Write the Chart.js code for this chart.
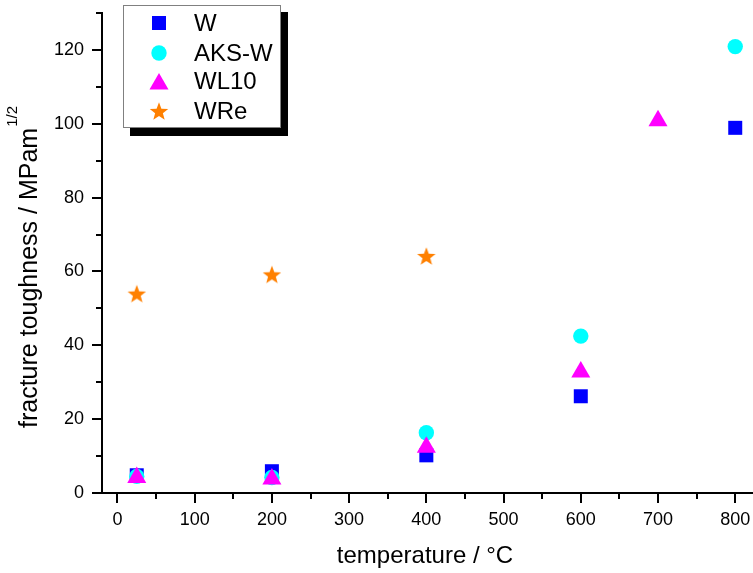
<!DOCTYPE html>
<html>
<head>
<meta charset="utf-8">
<script src="https://cdn.jsdelivr.net/npm/chart.js@4/dist/chart.umd.min.js"></script>
<style>
  body { margin: 0; background: #fff; }
  #wrap { width: 753px; height: 573px; position: relative; }
</style>
</head>
<body>
<div id="wrap"><canvas id="toughChart"></canvas></div>
<script>
// series (temperature in °C, toughness in MPa m^1/2)
const seriesNames = ['W', 'AKS-W', 'WL10', 'WRe'];
const wTemp = [25, 200, 400, 600, 800];
const wTough = [4.8, 5.9, 10.2, 26.2, 98.9];
const aksTemp = [25, 200, 400, 600, 800];
const aksTough = [4.5, 4.2, 16.3, 42.5, 120.9];
const wl10Temp = [25, 200, 400, 600, 700];
const wl10Tough = [4.2, 3.8, 12.4, 32.8, 100.8];
const wreTemp = [25, 200, 400];
const wreTough = [54.0, 59.2, 64.2];

const xMajorTicks = [0, 100, 200, 300, 400, 500, 600, 700, 800];
const xMinorTicks = [50, 150, 250, 350, 450, 550, 650, 750];
const yMajorTicks = [0, 20, 40, 60, 80, 100, 120];
const yMinorTicks = [10, 30, 50, 70, 90, 110, 130];

const FONT = "'Liberation Sans', Arial, sans-serif";

// filled five point star, used as point style
function makeStar(color, R) {
    const c = document.createElement('canvas');
    const s = Math.ceil(R * 2 + 2);
    c.width = s; c.height = s;
    const g = c.getContext('2d');
    const r = R * 0.42;
    g.translate(s / 2, s / 2 + R * 0.1);
    g.beginPath();
    for (let i = 0; i < 10; i++) {
        const a = -Math.PI / 2 + i * Math.PI / 5;
        const rr = i % 2 === 0 ? R : r;
        g.lineTo(Math.cos(a) * rr, Math.sin(a) * rr);
    }
    g.closePath();
    g.fillStyle = color;
    g.fill();
    return c;
}

function toPoints(xs, ys) {
    return xs.map((x, i) => ({ x: x, y: ys[i] }));
}

const styles = [
    { color: '#0000ff', pointStyle: 'rect', radius: 9.9, order: 4 },
    { color: '#00ffff', pointStyle: 'circle', radius: 7.7, order: 3 },
    { color: '#ff00ff', pointStyle: 'triangle', radius: 11, order: 2 },
    { color: '#ff8000', pointStyle: makeStar('#ff8000', 9.7), radius: 10, order: 1 }
];
const allData = [
    toPoints(wTemp, wTough),
    toPoints(aksTemp, aksTough),
    toPoints(wl10Temp, wl10Tough),
    toPoints(wreTemp, wreTough)
];

const datasets = seriesNames.map((name, i) => ({
    label: name,
    data: allData[i],
    pointStyle: styles[i].pointStyle,
    pointRadius: styles[i].radius,
    pointHoverRadius: styles[i].radius,
    pointBackgroundColor: styles[i].color,
    pointBorderColor: styles[i].color,
    pointBorderWidth: 0,
    showLine: false,
    order: styles[i].order,
    clip: false
}));

// minor ticks, axis titles and the shadowed legend box
const extrasPlugin = {
    id: 'extras',
    afterDraw(chart) {
        const ctx = chart.ctx;
        const xs = chart.scales.x, ys = chart.scales.y;
        const area = chart.chartArea;
        ctx.save();
        ctx.strokeStyle = '#000';
        ctx.lineWidth = 2;
        ctx.beginPath();
        xMinorTicks.forEach(v => {
            const px = Math.round(xs.getPixelForValue(v));
            ctx.moveTo(px, area.bottom);
            ctx.lineTo(px, area.bottom + 6);
        });
        yMinorTicks.forEach(v => {
            const py = Math.round(ys.getPixelForValue(v));
            ctx.moveTo(area.left, py);
            ctx.lineTo(area.left - 6, py);
        });
        ctx.stroke();

        // x title
        ctx.fillStyle = '#000';
        ctx.font = '24px ' + FONT;
        ctx.textAlign = 'center';
        ctx.textBaseline = 'alphabetic';
        ctx.fillText('temperature / °C', 425, 563);

        // y title with superscript
        ctx.save();
        ctx.translate(37, 428);
        ctx.rotate(-Math.PI / 2);
        ctx.textAlign = 'left';
        ctx.font = '25px ' + FONT;
        const main = 'fracture toughness / MPam';
        ctx.fillText(main, 0, 0);
        const w = ctx.measureText(main).width;
        ctx.font = '15px ' + FONT;
        ctx.fillText('1/2', w + 1, -20);
        ctx.restore();

        // legend
        ctx.fillStyle = '#000';
        ctx.fillRect(130, 12, 158, 124);
        ctx.fillStyle = '#fff';
        ctx.fillRect(123, 5, 158, 123);
        ctx.strokeStyle = '#808080';
        ctx.lineWidth = 1;
        ctx.strokeRect(123.5, 5.5, 157, 122);
        const rows = [23, 53, 81, 111];
        seriesNames.forEach((name, i) => {
            ctx.fillStyle = styles[i].color;
            ctx.strokeStyle = styles[i].color;
            const dy = styles[i].pointStyle === 'triangle' ? 3 : 0;
            Chart.helpers.drawPoint(ctx, {
                pointStyle: styles[i].pointStyle,
                radius: styles[i].radius,
                rotation: 0,
                borderWidth: 0
            }, 159, rows[i] + dy);
            ctx.fillStyle = '#000';
            ctx.font = '24px ' + FONT;
            ctx.textAlign = 'left';
            ctx.textBaseline = 'middle';
            ctx.fillText(name, 194, rows[i] + 1);
        });
        ctx.restore();
    }
};

Chart.defaults.font.family = FONT;
Chart.defaults.color = '#000';

new Chart(document.getElementById('toughChart'), {
    type: 'scatter',
    data: { datasets: datasets },
    options: {
        responsive: true,
        maintainAspectRatio: false,
        animation: false,
        layout: { autoPadding: false, padding: { top: 13, left: 0, right: 0, bottom: 0 } },
        plugins: {
            legend: { display: false },
            tooltip: { enabled: false }
        },
        scales: {
            x: {
                type: 'linear',
                min: -20,
                max: 823,
                afterFit: s => {
                    s.height = 80;
                    s.paddingLeft = 0;
                    s.paddingRight = 0;
                },
                afterBuildTicks: s => { s.ticks = xMajorTicks.map(v => ({ value: v })); },
                ticks: { font: { size: 18 }, padding: 6, maxRotation: 0, color: '#000' },
                grid: { drawOnChartArea: false, tickLength: 10, color: '#000', lineWidth: 2 },
                border: { display: true, color: '#000', width: 2 }
            },
            y: {
                type: 'linear',
                min: 0,
                max: 130,
                afterFit: s => {
                    s.width = 102;
                    s.paddingTop = 0;
                    s.paddingBottom = 0;
                },
                afterBuildTicks: s => { s.ticks = yMajorTicks.map(v => ({ value: v })); },
                ticks: { font: { size: 18 }, padding: 8, color: '#000' },
                grid: { drawOnChartArea: false, tickLength: 10, color: '#000', lineWidth: 2 },
                border: { display: true, color: '#000', width: 2 }
            }
        }
    },
    plugins: [extrasPlugin]
});
</script>
</body>
</html>
